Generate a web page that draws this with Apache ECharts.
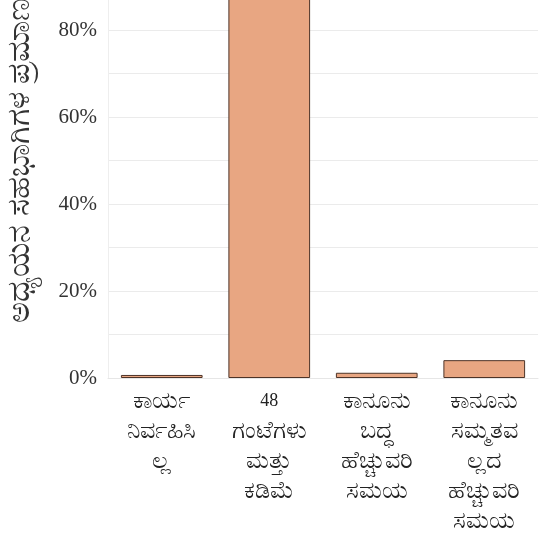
<!DOCTYPE html>
<html>
<head>
<meta charset="utf-8">
<script src="https://cdn.jsdelivr.net/npm/echarts@6/dist/echarts.min.js"></script>
<style>
  html, body { margin: 0; padding: 0; background: #fff; }
  #main { width: 539px; height: 538px; }
</style>
</head>
<body>
<div id="main"></div>
<script type="text/javascript">
    // categories and values
    var categories = [
        'ಕಾರ್ಯ\nನಿರ್ವಹಿಸಿ\nಲ್ಲ',
        '{num|48}\nಗಂಟೆಗಳು\nಮತ್ತು\nಕಡಿಮೆ',
        'ಕಾನೂನು\nಬದ್ಧ\nಹೆಚ್ಚುವರಿ\nಸಮಯ',
        'ಕಾನೂನು\nಸಮ್ಮತವ\nಲ್ಲದ\nಹೆಚ್ಚುವರಿ\nಸಮಯ'
    ];
    var shares = [0.7, 94, 1.2, 4.1];
    var yTickLabels = ['0%', '20%', '40%', '60%', '80%', '100%'];
    var yName = 'ಅಧ್ಯಯನ ಸಹಭಾಗಿಗಳ ಪ್ರಮಾಣ';

    var chart = echarts.init(document.getElementById('main'));
    chart.setOption({
        animation: false,
        grid: { left: 108, right: 1, top: -57, bottom: 160, outerBoundsMode: 'none' },
        xAxis: {
            type: 'category',
            data: categories,
            axisLine: { show: true, lineStyle: { color: '#e6e6e6' } },
            axisTick: { show: false },
            axisLabel: {
                interval: 0,
                margin: 8,
                color: '#222',
                fontSize: 24,
                lineHeight: 30,
                fontFamily: 'Noto Sans, sans-serif',
                rich: {
                    num: { fontSize: 18, lineHeight: 30, color: '#222', fontFamily: 'Liberation Serif, serif' }
                }
            }
        },
        yAxis: {
            type: 'value',
            min: 0,
            max: 100,
            interval: 10,
            name: yName,
            nameLocation: 'middle',
            nameGap: 72,
            nameTextStyle: { color: '#333', fontSize: 32, fontFamily: 'Noto Sans, sans-serif' },
            axisLine: { show: true, lineStyle: { color: '#eeeeee' } },
            axisTick: { show: false },
            splitLine: { lineStyle: { color: '#ebebeb' } },
            axisLabel: {
                margin: 11,
                color: '#333',
                fontSize: 21,
                fontFamily: 'Liberation Serif, serif',
                formatter: function (v) {
                    return v % 20 === 0 ? yTickLabels[v / 20] : '';
                }
            }
        },
        series: [{
            type: 'bar',
            data: shares,
            barCategoryGap: '24%',
            itemStyle: {
                color: '#e8a682',
                borderColor: '#4e3428',
                borderWidth: 1
            }
        }]
    });
</script>
</body>
</html>
